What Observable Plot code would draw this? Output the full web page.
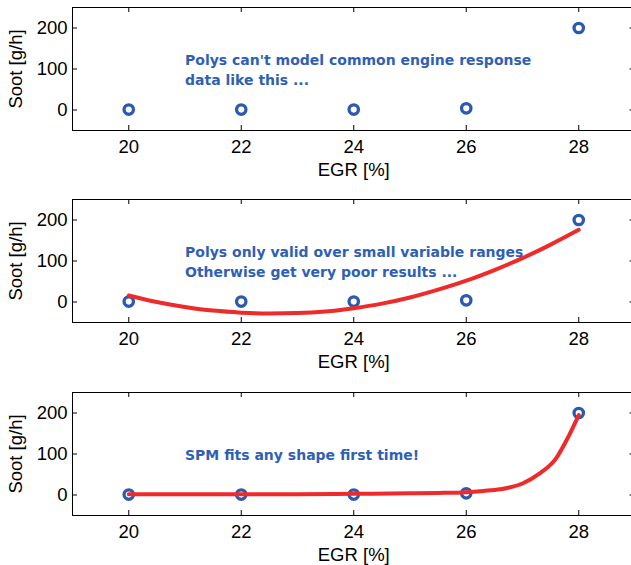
<!DOCTYPE html>
<html>
<head>
<meta charset="utf-8">
<script src="https://cdn.jsdelivr.net/npm/d3@7"></script>
<script src="https://cdn.jsdelivr.net/npm/@observablehq/plot@0.6"></script>
<style>
  html, body { margin: 0; padding: 0; background: white; overflow: hidden; }
  #wrap { width: 631px; overflow: hidden; }
  #wrap svg { display: block; max-width: none !important; }
</style>
</head>
<body>
<div id="wrap"></div>
<script>
// ---- data ----
const egr = [20, 22, 24, 26, 28];
const soot = [1, 1, 1, 4, 200];

// quadratic polynomial fit (panel 2)
const polyEgr  = [20, 20.5, 21, 21.5, 22, 22.5, 23, 23.5, 24, 24.5, 25, 25.5, 26, 26.5, 27, 27.5, 28];
const polySoot = [16, 0, -12, -21, -26, -28, -27, -23, -15, -4, 11, 30, 52, 78, 107, 140, 176];

// SPM fit (panel 3)
const spmEgr  = [20, 21, 22, 23, 24, 25, 25.5, 26, 26.3, 26.6, 27, 27.3, 27.6, 27.8, 28];
const spmSoot = [2, 2, 2, 2, 3, 4, 5, 7, 10, 14, 28, 52, 90, 138, 195];

const egrTicks = [20, 22, 24, 26, 28];
const sootTicks = [0, 100, 200];

const note1 = ["Polys can't model common engine response", "data like this ..."];
const note2 = ["Polys only valid over small variable ranges", "Otherwise get very poor results ..."];
const note3 = ["SPM fits any shape first time!"];

const xLabel = "EGR [%]";
const yLabel = "Soot [g/h]";

// ---- styling ----
const BLUE = "#2b5bb0";
const TEXTBLUE = "#2f5fb4";
const RED = "#ee2a2a";
const W = 636, ML = 72, MR = 1.5, MT = 7, PH = 123;
const PW = W - ML - MR;

const pts = egr.map((x, i) => ({x, y: soot[i]}));

function panel(height, curve, note) {
  const marks = [
    Plot.frame({stroke: "black", strokeWidth: 1}),
    Plot.axisX(egrTicks, {tickSize: 0, tickPadding: 9, label: xLabel, labelAnchor: "center", labelArrow: "none", labelOffset: 45}),
    Plot.axisY(sootTicks, {tickSize: 0, tickPadding: 5, label: yLabel, labelAnchor: "center", labelArrow: "none", labelOffset: 64}),
    // inward ticks on all four sides
    Plot.tickX(egrTicks, {x: d => d, insetTop: PH - 5, stroke: "black"}),
    Plot.tickX(egrTicks, {x: d => d, insetBottom: PH - 5, stroke: "black"}),
    Plot.tickY(sootTicks, {y: d => d, insetRight: PW - 5, stroke: "black"}),
    Plot.tickY(sootTicks, {y: d => d, insetLeft: PW - 5, stroke: "black"}),
    Plot.dot(pts, {x: "x", y: "y", r: 4.7, stroke: BLUE, strokeWidth: 3.3, fill: "none"}),
    Plot.text([note.join("\n")], {
      x: 21, y: 100, text: d => d, textAnchor: "start", lineAnchor: "middle",
      fontFamily: "DejaVu Sans", fontWeight: "bold", fontSize: 14, lineHeight: 1.43, fill: TEXTBLUE
    })
  ];
  if (curve) {
    const cd = curve.x.map((x, i) => ({x, y: curve.y[i]}));
    marks.push(Plot.line(cd, {x: "x", y: "y", stroke: RED, strokeWidth: 4, curve: "monotone-x"}));
  }
  return Plot.plot({
    width: W, height,
    marginLeft: ML, marginRight: MR, marginTop: MT, marginBottom: height - MT - PH,
    x: {domain: [19, 29]},
    y: {domain: [-50, 250]},
    style: {fontFamily: "'Liberation Sans', Arial, sans-serif", fontSize: "18.5px", color: "black", background: "white", maxWidth: "none"},
    marks
  });
}

const wrap = document.getElementById("wrap");
wrap.appendChild(panel(192, null, note1));
wrap.appendChild(panel(193, {x: polyEgr, y: polySoot}, note2));
wrap.appendChild(panel(192, {x: spmEgr, y: spmSoot}, note3));
</script>
</body>
</html>
